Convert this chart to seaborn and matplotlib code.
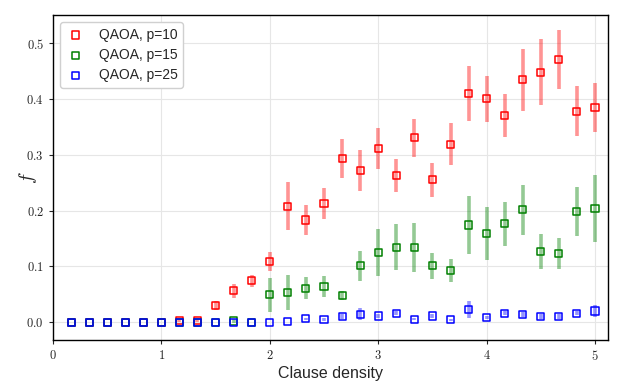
import matplotlib
matplotlib.use("Agg")
import matplotlib.pyplot as plt
import seaborn as sns
import pandas as pd

# ---- data ----
density = [0.167, 0.333, 0.500, 0.667, 0.833, 1.000, 1.167, 1.333, 1.500, 1.667,
           1.833, 2.000, 2.167, 2.333, 2.500, 2.667, 2.833, 3.000, 3.167, 3.333,
           3.500, 3.667, 3.833, 4.000, 4.167, 4.333, 4.500, 4.667, 4.833, 5.000]

f_p10 = [0.0, 0.0, 0.0, 0.0, 0.0, 0.0, 0.003, 0.003, 0.030, 0.056,
         0.074, 0.109, 0.208, 0.183, 0.213, 0.293, 0.272, 0.311, 0.263, 0.330,
         0.255, 0.319, 0.410, 0.400, 0.370, 0.434, 0.448, 0.470, 0.378, 0.384]
err_p10 = [0.0, 0.0, 0.0, 0.0, 0.0, 0.0, 0.002, 0.002, 0.008, 0.012,
           0.011, 0.017, 0.043, 0.026, 0.028, 0.035, 0.037, 0.036, 0.030, 0.034,
           0.030, 0.038, 0.049, 0.041, 0.038, 0.056, 0.059, 0.053, 0.045, 0.044]

f_p15 = [0.0, 0.0, 0.0, 0.0, 0.0, 0.0, 0.0, 0.0, 0.0, 0.002,
         0.0, 0.049, 0.053, 0.061, 0.064, 0.048, 0.101, 0.125, 0.134, 0.133,
         0.101, 0.093, 0.174, 0.159, 0.176, 0.201, 0.127, 0.123, 0.199, 0.204]
err_p15 = [0.0, 0.0, 0.0, 0.0, 0.0, 0.0, 0.0, 0.0, 0.0, 0.003,
           0.0, 0.030, 0.031, 0.020, 0.019, 0.008, 0.027, 0.042, 0.041, 0.044,
           0.023, 0.021, 0.052, 0.048, 0.040, 0.044, 0.031, 0.028, 0.044, 0.060]

f_p25 = [0.0, 0.0, 0.0, 0.0, 0.0, 0.0, 0.0, 0.0, 0.0, 0.0,
         0.0, 0.0, 0.001, 0.006, 0.005, 0.010, 0.014, 0.011, 0.016, 0.005,
         0.011, 0.004, 0.023, 0.008, 0.016, 0.014, 0.010, 0.010, 0.016, 0.020]
err_p25 = [0.0, 0.0, 0.0, 0.0, 0.0, 0.0, 0.0, 0.0, 0.0, 0.0,
           0.0, 0.0, 0.0, 0.002, 0.003, 0.004, 0.011, 0.004, 0.004, 0.002,
           0.004, 0.002, 0.015, 0.003, 0.004, 0.004, 0.004, 0.004, 0.004, 0.011]

labels = ["QAOA, p=10", "QAOA, p=15", "QAOA, p=25"]
colors = ["red", "green", "blue"]

xticks = [0, 1, 2, 3, 4, 5]
yticks = [0.0, 0.1, 0.2, 0.3, 0.4, 0.5]

# ---- style ----
sns.set_style("ticks")
plt.rcParams["font.family"] = ["Liberation Sans", "DejaVu Sans"]
plt.rcParams["mathtext.fontset"] = "cm"

fig = plt.figure(figsize=(6.23, 3.89), dpi=100)
ax = fig.add_axes([0.085, 0.126, 0.891, 0.835])

series = [(f_p10, err_p10), (f_p15, err_p15), (f_p25, err_p25)]
for k, ((vals, errs), lab, col) in enumerate(zip(series, labels, colors)):
    df = pd.DataFrame({"x": density, "f": vals, "e": errs})
    ax.errorbar(df["x"], df["f"], yerr=df["e"], fmt="none", ecolor=col,
                elinewidth=2.6, alpha=0.42, capsize=0, zorder=2 + 2 * k)
    sns.scatterplot(data=df, x="x", y="f", marker="s", s=26,
                    facecolor="none", edgecolor=col, linewidth=1.1,
                    label=lab, ax=ax, zorder=3 + 2 * k)

ax.set_xlim(0, 5.12)
ax.set_ylim(-0.032, 0.55)
ax.set_xticks(xticks)
ax.set_xticklabels([f"${t}$" for t in xticks])
ax.set_yticks(yticks)
ax.set_yticklabels([f"${t:.1f}$" for t in yticks])
ax.tick_params(axis="both", labelsize=9, length=3, width=0.8, direction="out")
ax.grid(True, color="#e6e6e6", linewidth=0.8)
ax.set_axisbelow(True)
for s in ax.spines.values():
    s.set_visible(True)
    s.set_linewidth(1.0)
    s.set_color("black")

ax.set_xlabel("Clause density", fontsize=11.5, labelpad=2)
ax.set_ylabel("$f$", fontsize=14)
ax.yaxis.set_label_coords(-0.025, 0.5)

leg = ax.legend(loc="upper left", fontsize=10, frameon=True, fancybox=True,
                edgecolor="#d0d0d0", framealpha=1.0, handlelength=1.5,
                handletextpad=0.9, borderpad=0.4, labelspacing=0.45)

fig.savefig("out.png", dpi=100)
